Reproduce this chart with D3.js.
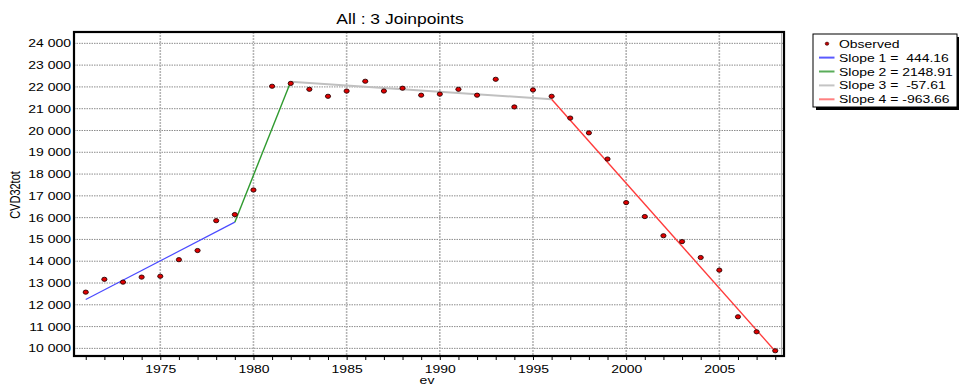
<!DOCTYPE html>
<html><head><meta charset="utf-8">
<script src="https://cdn.jsdelivr.net/npm/d3@7"></script>
<style>
body{margin:0;background:#fff;}
text{font-family:"Liberation Sans",Arial,sans-serif;fill:#000;}
</style></head>
<body><svg id="c" width="959" height="387"></svg>
<script>
// Observed data
const years = [1971,1972,1973,1974,1975,1976,1977,1978,1979,1980,1981,1982,1983,1984,1985,1986,1987,1988,1989,1990,1991,1992,1993,1994,1995,1996,1997,1998,1999,2000,2001,2002,2003,2004,2005,2006,2007,2008];
const observed = [12580,13170,13040,13270,13310,14070,14490,15860,16140,17270,22030,22160,21890,21570,21810,22260,21810,21940,21620,21670,21890,21620,22350,21080,21860,21570,20570,19890,18690,16690,16050,15170,14900,14170,13590,11450,10760,9890];
// Joinpoint fitted segments
const joinYears = [1971,1979,1982,1996,2008];
const fitted = [12240,15793,22240,21433,9869];
const segColors = ["#4b4bff","#2e9a2e","#c0c0c0","#ff3a3a"];
const segWidths = [1.2,1.4,2,1.4];
const legendLabels = ["Observed","Slope 1 =  444.16","Slope 2 = 2148.91","Slope 3 =  -57.61","Slope 4 = -963.66"];
const legendColors = [null,"#5a5aff","#5aad5a","#c4c4c4","#ff8080"];
const yTicks = [10000,11000,12000,13000,14000,15000,16000,17000,18000,19000,20000,21000,22000,23000,24000];
const xMajor = [1975,1980,1985,1990,1995,2000,2005];
const title = "All : 3 Joinpoints";
const xTitle = "ev", yTitle = "CVD32tot";

const SX = 1.27; // horizontal text stretch of the reference
const svg = d3.select("#c");
const L=74,R=784,T=32,B=356;
const x = d3.scaleLinear().domain([1970.37,2008.47]).range([L,R]);
const y = d3.scaleLinear().domain([9650,24520]).range([B,T]);

// grid
svg.append("g").selectAll("line").data(yTicks).join("line")
  .attr("x1",L).attr("x2",R).attr("y1",d=>y(d)).attr("y2",d=>y(d))
  .attr("stroke","#8c8c8c").attr("stroke-width",1).attr("stroke-dasharray","1.5,1");
svg.append("g").selectAll("line").data(xMajor).join("line")
  .attr("x1",d=>x(d)).attr("x2",d=>x(d)).attr("y1",T).attr("y2",B)
  .attr("stroke","#b4b4b4").attr("stroke-width",1.6).attr("stroke-dasharray","2,1");

// fitted segments
for(let i=0;i<4;i++){
  svg.append("line")
    .attr("x1",x(joinYears[i])).attr("y1",y(fitted[i]))
    .attr("x2",x(joinYears[i+1])).attr("y2",y(fitted[i+1]))
    .attr("stroke",segColors[i]).attr("stroke-width",segWidths[i]);
}

// observed points
svg.append("g").selectAll("ellipse").data(years).join("ellipse")
  .attr("cx",d=>x(d)).attr("cy",(d,i)=>y(observed[i]))
  .attr("rx",2.6).attr("ry",2.1)
  .attr("fill","#e00000").attr("stroke","#2a0000").attr("stroke-width",0.9);

// frame
svg.append("rect").attr("x",L).attr("y",T).attr("width",R-L).attr("height",B-T)
  .attr("fill","none").attr("stroke","#000").attr("stroke-width",2.2);
svg.append("line").attr("x1",R-2.5).attr("x2",R-2.5).attr("y1",T+1).attr("y2",B-1)
  .attr("stroke","#b0b0b0").attr("stroke-width",1);

// x axis
const xa = svg.append("g").attr("transform",`translate(0,${B})`)
  .call(d3.axisBottom(x).tickValues(years).tickSize(3).tickPadding(6)
    .tickFormat(d=> d%5===0 ? String(d) : ""));
xa.select(".domain").remove();
xa.selectAll(".tick line").attr("stroke","#000").attr("stroke-width",1).attr("transform","translate(0,1)");
xa.selectAll(".tick text").attr("font-size",11).attr("font-family","Liberation Sans, Arial, sans-serif")
  .attr("transform",`scale(${SX},1)`).attr("fill","#000");

// y axis
const ya = svg.append("g").attr("transform",`translate(${L},0)`)
  .call(d3.axisLeft(y).tickValues(yTicks).tickSize(0).tickPadding(3)
    .tickFormat(d=>d3.format(",")(d).replace(","," ")));
ya.select(".domain").remove();
ya.selectAll(".tick text").attr("font-size",11).attr("font-family","Liberation Sans, Arial, sans-serif")
  .attr("x",-2.4).attr("transform",`scale(${SX},1)`).attr("fill","#000");

// titles
svg.append("text").attr("transform",`translate(400,24) scale(1.25,1)`)
  .attr("text-anchor","middle").attr("font-size",14).text(title);
svg.append("text").attr("transform",`translate(427,384) scale(${SX},1)`)
  .attr("text-anchor","middle").attr("font-size",11).text(xTitle);
svg.append("text").attr("transform",`translate(20,195) rotate(-90) scale(1,${SX})`)
  .attr("text-anchor","middle").attr("font-size",11).text(yTitle);

// legend
const lg = svg.append("g");
lg.append("rect").attr("x",816).attr("y",37).attr("width",144).attr("height",73).attr("fill","#000");
lg.append("rect").attr("x",813).attr("y",34).attr("width",144).attr("height",73)
  .attr("fill","#fff").attr("stroke","#000").attr("stroke-width",1);
const rowY = i=>43.7+i*13.9;
legendLabels.forEach((lab,i)=>{
  if(i===0){
    lg.append("ellipse").attr("cx",827).attr("cy",rowY(i)).attr("rx",1.8).attr("ry",1.6)
      .attr("fill","#c00000").attr("stroke","#300").attr("stroke-width",0.6);
  } else {
    lg.append("line").attr("x1",819).attr("x2",834.5).attr("y1",rowY(i)).attr("y2",rowY(i))
      .attr("stroke",legendColors[i]).attr("stroke-width",2);
  }
  lg.append("text").attr("transform",`translate(839,${rowY(i)+4}) scale(${SX},1)`)
    .attr("font-size",11).attr("xml:space","preserve").style("white-space","pre").text(lab);
});
</script></body></html>
